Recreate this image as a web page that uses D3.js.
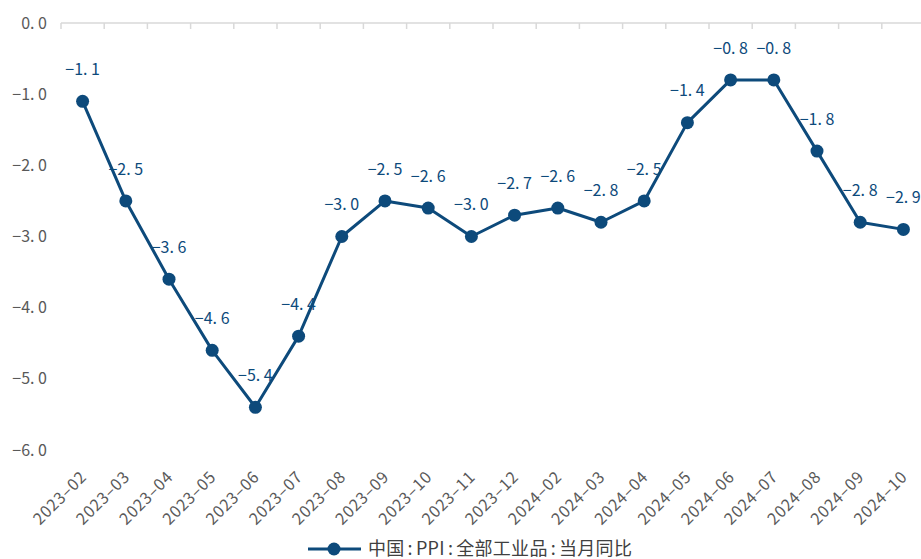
<!DOCTYPE html>
<html>
<head>
<meta charset="utf-8">
<script src="https://cdn.jsdelivr.net/npm/d3@7"></script>
<style>
  html, body { margin: 0; padding: 0; background: #fff; }
  svg { display: block; font-family: "Noto Sans CJK SC", "Noto Sans", sans-serif; }
</style>
</head>
<body>
<svg id="chart" width="921" height="559"></svg>
<script>
// Monthly PPI year-on-year change (%)
const months = ["2023-02","2023-03","2023-04","2023-05","2023-06","2023-07","2023-08","2023-09","2023-10","2023-11","2023-12",
                "2024-02","2024-03","2024-04","2024-05","2024-06","2024-07","2024-08","2024-09","2024-10"];
const ppi = [-1.1, -2.5, -3.6, -4.6, -5.4, -4.4, -3.0, -2.5, -2.6, -3.0, -2.7,
             -2.6, -2.8, -2.5, -1.4, -0.8, -0.8, -1.8, -2.8, -2.9];
const yTicks = [0, -1, -2, -3, -4, -5, -6];
const seriesName = "中国:PPI:全部工业品:当月同比";

const lineColor = "#0d4a7b";
const svg = d3.select("#chart");

const x = d3.scaleBand().domain(months).range([61, 925]);
const y = d3.scaleLinear().domain([-6, 0]).range([450, 23]);

const fmt = v => (v < 0 ? "\u2212" : "") + Math.abs(v).toFixed(1).replace(".", ". ");

// y-axis labels
svg.append("g").selectAll("text").data(yTicks).join("text")
  .attr("x", 47).attr("y", d => y(d)).attr("dy", "0.35em")
  .attr("text-anchor", "end").attr("fill", "#595959").attr("font-size", 16)
  .text(d => fmt(d));

// category axis running along the zero line
const axis = svg.append("g");
axis.append("line")
  .attr("x1", x.range()[0]).attr("x2", x.range()[1])
  .attr("y1", y(0)).attr("y2", y(0))
  .attr("stroke", "#d9d9d9").attr("stroke-width", 1.5);
axis.selectAll("line.tick").data(months.concat(["_end"])).join("line")
  .attr("class", "tick")
  .attr("x1", (d, i) => x.range()[0] + i * x.step())
  .attr("x2", (d, i) => x.range()[0] + i * x.step())
  .attr("y1", y(0)).attr("y2", y(0) + 6)
  .attr("stroke", "#d9d9d9").attr("stroke-width", 1.5);

// rotated month labels below the plot
svg.append("g").selectAll("text").data(months).join("text")
  .attr("transform", d => `translate(${x(d) + x.bandwidth() / 2 + 5},${478}) rotate(-45)`)
  .attr("text-anchor", "end").attr("fill", "#595959").attr("font-size", 16)
  .attr("letter-spacing", 0.8)
  .text(d => d.replace("-", "\u2013"));

const cx = d => x(d) + x.bandwidth() / 2;
const pts = months.map((m, i) => ({ m, v: ppi[i] }));

// value labels above each point (drawn under the line)
svg.append("g").selectAll("text").data(pts).join("text")
  .attr("x", d => cx(d.m)).attr("y", d => y(d.v) - 32).attr("dy", "0.35em")
  .attr("text-anchor", "middle").attr("fill", lineColor).attr("font-size", 16)
  .text(d => fmt(d.v));

svg.append("path").datum(pts)
  .attr("fill", "none").attr("stroke", lineColor).attr("stroke-width", 3)
  .attr("stroke-linejoin", "round")
  .attr("d", d3.line().x(d => cx(d.m)).y(d => y(d.v)));

svg.append("g").selectAll("circle").data(pts).join("circle")
  .attr("cx", d => cx(d.m)).attr("cy", d => y(d.v)).attr("r", 6.5)
  .attr("fill", lineColor);

// legend
const lg = svg.append("g").attr("transform", "translate(0,549)");
lg.append("line").attr("x1", 308).attr("x2", 361).attr("y1", 0).attr("y2", 0)
  .attr("stroke", lineColor).attr("stroke-width", 3);
lg.append("circle").attr("cx", 334).attr("cy", 0).attr("r", 6.5).attr("fill", lineColor);
const lt = lg.append("text").attr("x", 368).attr("y", 0).attr("dy", "0.35em")
  .attr("fill", "#404040").attr("font-size", 18).attr("letter-spacing", 0.3);
// space the colons out a little between the name parts
seriesName.split(":").forEach((part, i, arr) => {
  lt.append("tspan").attr("dx", i ? 3 : 0).text(part);
  if (i < arr.length - 1) lt.append("tspan").attr("dx", 3).text(":");
});
</script>
</body>
</html>
